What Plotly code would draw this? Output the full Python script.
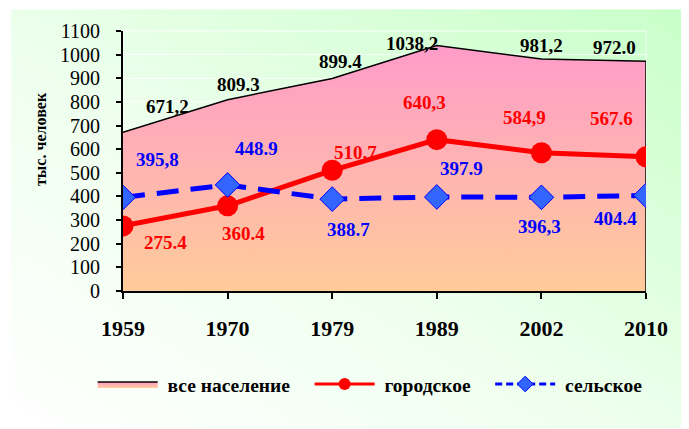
import base64
import plotly.graph_objects as go

# census years and population, thousand people
years = ["1959", "1970", "1979", "1989", "2002", "2010"]
total = [671.2, 809.3, 899.4, 1038.2, 981.2, 972.0]
urban = [275.4, 360.4, 510.7, 640.3, 584.9, 567.6]
rural = [395.8, 448.9, 388.7, 397.9, 396.3, 404.4]

# labels as printed on the chart (mixed separators)
total_labels = ["671,2", "809.3", "899.4", "1038,2", "981,2", "972.0"]
urban_labels = ["275.4", "360.4", "510.7", "640,3", "584,9", "567.6"]
rural_labels = ["395,8", "448.9", "388.7", "397.9", "396,3", "404.4"]

y_ticks = list(range(0, 1101, 100))

FONT = "Liberation Serif"
NB = "\u00a0"

# label offsets in pixels (xshift, yshift)
total_off = [(44, 26), (11, 15), (8, 17), (-25, 2), (0, 14), (-32, 14)]
urban_off = [(42, -17), (16, -28), (23, 18), (-12, 37), (-17, 35), (-35, 38)]
rural_off = [(34, 38), (29, 36), (16, -30), (25, 28), (-2, -29), (-31, -23)]

fig = go.Figure()

fig.add_trace(go.Scatter(
    x=years, y=total, name=NB + "все население" + NB * 3, mode="lines",
    fill="tozeroy",
    fillgradient=dict(type="vertical", start=0, stop=1100,
                      colorscale=[[0, "#FFCC99"], [1, "#FF99CC"]]),
    line=dict(color="black", width=1.5),
))
# closing edge of the area at the last year
fig.add_trace(go.Scatter(
    x=[years[-1], years[-1]], y=[0, total[-1]], mode="lines",
    line=dict(color="black", width=1.5), showlegend=False, hoverinfo="skip",
))
fig.add_trace(go.Scatter(
    x=years, y=urban, mode="lines+markers", showlegend=False,
    line=dict(color="#FF0000", width=5),
    marker=dict(symbol="circle", size=21, color="#FF0000"),
))
fig.add_trace(go.Scatter(
    x=years, y=rural, mode="lines+markers", showlegend=False,
    line=dict(color="#0000FF", width=5, dash="22px,12px"),
    marker=dict(symbol="diamond", size=19, color="#3366FF",
                line=dict(color="#0000FF", width=1)),
))
# legend entries with the smaller symbols of the original legend
fig.add_trace(go.Scatter(
    x=[None], y=[None], name=NB + "городское" + NB * 3, mode="lines+markers",
    line=dict(color="#FF0000", width=3),
    marker=dict(symbol="circle", size=12, color="#FF0000"),
))
fig.add_trace(go.Scatter(
    x=[None], y=[None], name=NB + "сельское", mode="lines+markers",
    line=dict(color="#0000FF", width=3, dash="7px,4px"),
    marker=dict(symbol="diamond", size=12, color="#3366FF",
                line=dict(color="#0000FF", width=1)),
))

anns = []
for vals, labs, offs, col in [(total, total_labels, total_off, "black"),
                              (urban, urban_labels, urban_off, "#FF0000"),
                              (rural, rural_labels, rural_off, "#0000FF")]:
    for i in range(len(years)):
        anns.append(dict(x=i, y=vals[i], text=labs[i], showarrow=False,
                         xshift=offs[i][0], yshift=offs[i][1],
                         font=dict(family=FONT, size=19, color=col, weight="bold")))

anns.append(dict(xref="paper", yref="paper", x=-0.159, y=0.584,
                 xanchor="center", yanchor="middle",
                 text="тыс. человек", textangle=-90, showarrow=False,
                 font=dict(family=FONT, size=16, color="black", weight="bold")))

# soft green background gradient
svg = ('<svg xmlns="http://www.w3.org/2000/svg" width="100" height="100" preserveAspectRatio="none">'
       '<defs><linearGradient id="g" x1="0" y1="1" x2="1" y2="0">'
       '<stop offset="0" stop-color="#FFFFFF"/><stop offset="0.45" stop-color="#EEFFEE"/>'
       '<stop offset="1" stop-color="#C8FFC8"/></linearGradient></defs>'
       '<rect width="100" height="100" fill="url(#g)"/></svg>')
bg = "data:image/svg+xml;base64," + base64.b64encode(svg.encode()).decode()

fig.update_layout(
    width=689, height=429,
    margin=dict(l=115, r=51, t=21, b=146),
    paper_bgcolor="white",
    plot_bgcolor="rgba(0,0,0,0)",
    font=dict(family=FONT, color="black"),
    annotations=anns,
    images=[dict(source=bg, xref="paper", yref="paper", x=-0.2141, y=1.084,
                 sizex=1.2964, sizey=1.6107, sizing="stretch",
                 xanchor="left", yanchor="top", layer="below")],
    shapes=[dict(type="rect", xref="paper", yref="paper", x0=0, x1=1, y0=0, y1=1,
                 line=dict(color="rgba(255,255,255,0.9)", width=1), layer="below")],
    legend=dict(orientation="h", x=-0.058, y=-0.359, xanchor="left", yanchor="middle",
                itemwidth=60, bgcolor="rgba(0,0,0,0)",
                font=dict(family=FONT, size=19.5, color="black", weight="bold")),
    showlegend=True,
)

fig.update_xaxes(
    type="category", range=[0, 5], showgrid=False,
    showline=True, linecolor="black", linewidth=2,
    ticks="outside", ticklen=6, tickwidth=2, tickcolor="black",
    ticklabelstandoff=11,
    tickfont=dict(family=FONT, size=22, color="black", weight="bold"),
    zeroline=False,
)
fig.update_yaxes(
    range=[0, 1100], tickvals=y_ticks,
    showgrid=True, gridcolor="rgba(255,255,255,0.8)", gridwidth=1,
    showline=True, linecolor="black", linewidth=2,
    ticks="outside", ticklen=5, tickwidth=2, tickcolor="black",
    ticklabelstandoff=12,
    tickfont=dict(family=FONT, size=20, color="black"),
    zeroline=False,
)

fig.write_html("out.html")
